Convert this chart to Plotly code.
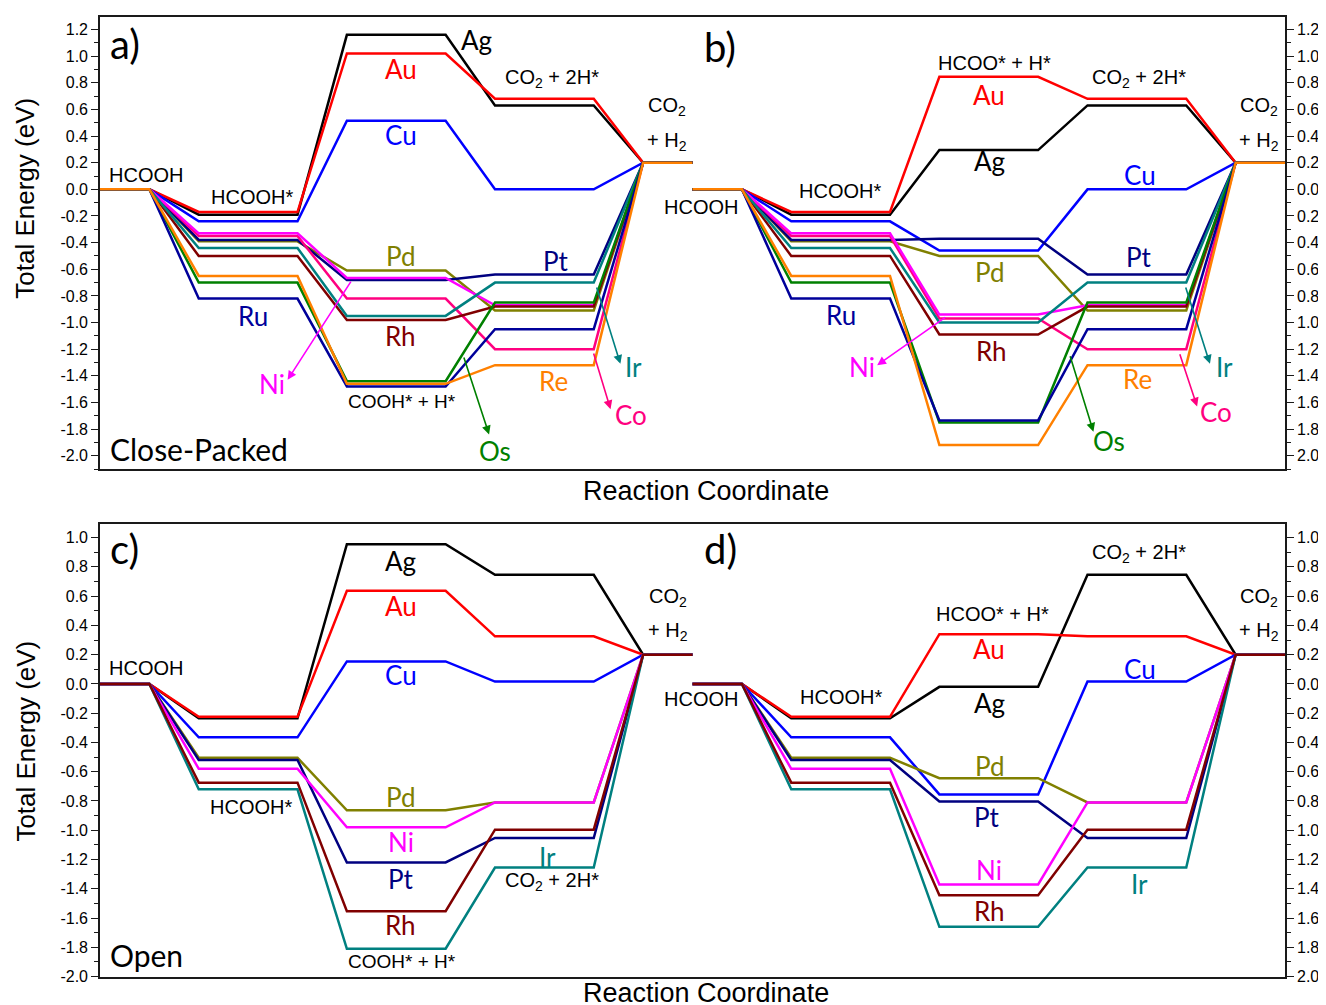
import plotly.graph_objects as go

# ---------------- data ----------------
# x edges (reaction-coordinate units) of the five states within one panel
level_x = [0, 1, 2, 4, 5, 7, 8, 10, 11, 12]
panel_shift = 12  # second panel (b / d) starts at 12

E_HCOOH = 0.0
E_CO2_H2 = 0.2

# Close-packed surfaces (panels a, b)
top_metals = ["Ag", "Au", "Cu", "Pd", "Pt", "Co", "Ni", "Rh", "Ir", "Os", "Ru", "Re"]
top_hcooh_ads = [-0.19, -0.17, -0.24, -0.39, -0.38, -0.35, -0.33, -0.50, -0.44, -0.70, -0.82, -0.65]
top_cooh_h = [1.16, 1.02, 0.515, -0.61, -0.68, -0.82, -0.665, -0.98, -0.95, -1.44, -1.48, -1.46]
top_hcoo_h = [0.295, 0.845, -0.46, -0.50, -0.37, -0.97, -0.94, -1.09, -1.00, -1.75, -1.735, -1.92]
top_co2_2h = [0.63, 0.68, 0.0, -0.91, -0.64, -1.20, -0.87, -0.88, -0.70, -0.85, -1.05, -1.32]

# Open surfaces (panels c, d)
bot_metals = ["Ag", "Au", "Cu", "Pd", "Pt", "Ni", "Ir", "Rh"]
bot_hcooh_ads = [-0.235, -0.225, -0.365, -0.505, -0.52, -0.58, -0.72, -0.675]
bot_cooh_h = [0.955, 0.636, 0.154, -0.864, -1.22, -0.98, -1.81, -1.553]
bot_hcoo_h = [-0.02, 0.34, -0.755, -0.644, -0.803, -1.37, -1.66, -1.444]
bot_co2_2h = [0.746, 0.325, 0.016, -0.81, -1.053, -0.81, -1.255, -0.996]

colors = {
    "Ag": "#000000", "Au": "#FF0000", "Cu": "#0000FF", "Pd": "#808000",
    "Pt": "#000080", "Ni": "#FF00FF", "Co": "#FF0080", "Rh": "#800000",
    "Ir": "#008080", "Os": "#008000", "Ru": "#00009A", "Re": "#FF8000",
}

top_ticks = [round(-2.0 + 0.2 * i, 1) for i in range(17)]
bot_ticks = [round(-2.0 + 0.2 * i, 1) for i in range(16)]

# --------------- figure ----------------
fig = go.Figure()


def path(ads, mid, co2, shift):
    xs = [v + shift for v in level_x]
    ys = [E_HCOOH, E_HCOOH, ads, ads, mid, mid, co2, co2, E_CO2_H2, E_CO2_H2]
    return xs, ys


LW = 2.5
for i, m in enumerate(top_metals):
    for shift, mid in ((0, top_cooh_h[i]), (panel_shift, top_hcoo_h[i])):
        xs, ys = path(top_hcooh_ads[i], mid, top_co2_2h[i], shift)
        fig.add_trace(go.Scatter(x=xs, y=ys, mode="lines", line=dict(color=colors[m], width=LW),
                                 xaxis="x", yaxis="y", showlegend=False, hoverinfo="skip"))
for i, m in enumerate(bot_metals):
    for shift, mid in ((0, bot_cooh_h[i]), (panel_shift, bot_hcoo_h[i])):
        xs, ys = path(bot_hcooh_ads[i], mid, bot_co2_2h[i], shift)
        fig.add_trace(go.Scatter(x=xs, y=ys, mode="lines", line=dict(color=colors[m], width=LW),
                                 xaxis="x2", yaxis="y3", showlegend=False, hoverinfo="skip"))

# dummy traces so that right-hand axes render
fig.add_trace(go.Scatter(x=[None], y=[None], xaxis="x", yaxis="y2", showlegend=False, hoverinfo="skip"))
fig.add_trace(go.Scatter(x=[None], y=[None], xaxis="x2", yaxis="y4", showlegend=False, hoverinfo="skip"))

AX = "#1a1a1a"
TICKF = dict(family="Liberation Sans, Arial", size=16, color="#000")


def fmt(v):
    s = f"{v:.1f}"
    return "0.0" if s == "-0.0" else s


def yax(ticks, rng, dom, side, anchor, overlay=None, absolute=False):
    d = dict(range=rng, domain=dom, side=side, anchor=anchor,
             tickvals=ticks,
             ticktext=[fmt(abs(t)) if absolute else fmt(t) for t in ticks],
             ticks="outside", ticklen=7, tickwidth=1.4, tickcolor=AX,
             minor=dict(dtick=0.1, ticks="outside", ticklen=4, tickwidth=1.2, tickcolor=AX),
             showline=True, linecolor=AX, linewidth=1.6,
             showgrid=False, zeroline=False, tickfont=TICKF, fixedrange=True)
    if overlay:
        d["overlaying"] = overlay
    return d


top_dom = [0.5291, 1.0]
bot_dom = [0.0, 0.4719]
top_rng = [-2.10, 1.294]
bot_rng = [-2.003, 1.093]

xcommon = dict(range=[0, 24], showticklabels=False, ticks="", showline=True, mirror=True,
               linecolor=AX, linewidth=1.6, showgrid=False, zeroline=False, fixedrange=True)

# page body has an 8px default margin -> figure is 8px smaller and margins shifted
fig.update_layout(
    width=1318, height=997,
    margin=dict(l=92, r=40, t=7, b=28),
    paper_bgcolor="white", plot_bgcolor="white",
    xaxis=dict(domain=[0, 1], anchor="y", **xcommon),
    xaxis2=dict(domain=[0, 1], anchor="y3", **xcommon),
    yaxis=yax(top_ticks, top_rng, top_dom, "left", "x"),
    yaxis2=yax(top_ticks, top_rng, top_dom, "right", "x", overlay="y", absolute=True),
    yaxis3=yax(bot_ticks, bot_rng, bot_dom, "left", "x2"),
    yaxis4=yax(bot_ticks, bot_rng, bot_dom, "right", "x2", overlay="y3", absolute=True),
)

ann = []
LATO = "Lato"
ARIAL = "Liberation Sans, Arial"


def lab(x, y, text, color="#000", size=26, font=LATO, xref="x", yref="y", xanchor="center", **kw):
    ann.append(dict(x=x, y=y, text=text, xref=xref, yref=yref, showarrow=False,
                    xanchor=xanchor, yanchor="middle",
                    font=dict(family=font, size=size, color=color), **kw))


def arrow(hx, hy, tx, ty, color, xref="x", yref="y"):
    ann.append(dict(x=hx, y=hy, ax=tx, ay=ty, xref=xref, yref=yref, axref=xref, ayref=yref,
                    text=" ", font=dict(size=2), showarrow=True, arrowhead=2, arrowsize=1.1,
                    arrowwidth=1.6, arrowcolor=color, standoff=0, startstandoff=0))


CO2 = "CO<sub>2</sub>"
H2 = "+ H<sub>2</sub>"

# ---- panel a ----
lab(0.16, 1.09, "a)", size=40, xanchor="left")
lab(0.16, -1.95, "Close-Packed", size=30, xanchor="left")
lab(0.93, 0.11, "HCOOH", size=20, font=ARIAL)
lab(3.08, -0.06, "HCOOH*", size=20, font=ARIAL)
lab(6.11, -1.59, "COOH* + H*", size=19, font=ARIAL)
lab(9.15, 0.83, CO2 + " + 2H*", size=20, font=ARIAL)
lab(11.49, 0.62, CO2, size=20, font=ARIAL)
lab(11.49, 0.36, H2, size=20, font=ARIAL)
lab(7.63, 1.12, "Ag", colors["Ag"])
lab(6.09, 0.90, "Au", colors["Au"])
lab(6.09, 0.41, "Cu", colors["Cu"])
lab(6.09, -0.50, "Pd", colors["Pd"])
lab(9.23, -0.54, "Pt", colors["Pt"])
lab(3.10, -0.95, "Ru", colors["Ru"])
lab(6.09, -1.10, "Rh", colors["Rh"])
lab(9.19, -1.44, "Re", colors["Re"])
lab(3.48, -1.46, "Ni", colors["Ni"])
lab(10.81, -1.335, "Ir", colors["Ir"])
lab(10.76, -1.695, "Co", colors["Co"])
lab(8.01, -1.965, "Os", colors["Os"])
arrow(3.80, -1.43, 5.12, -0.67, colors["Ni"])
arrow(10.54, -1.31, 10.04, -0.715, colors["Ir"])
arrow(10.34, -1.65, 9.98, -1.21, colors["Co"])
arrow(7.88, -1.84, 7.35, -1.24, colors["Os"])

# ---- panel b ----
lab(12.2, 1.07, "b)", size=40, xanchor="left")
lab(12.18, -0.13, "HCOOH", size=20, font=ARIAL)
lab(14.99, -0.01, "HCOOH*", size=20, font=ARIAL)
lab(18.11, 0.95, "HCOO* + H*", size=20, font=ARIAL)
lab(21.04, 0.83, CO2 + " + 2H*", size=20, font=ARIAL)
lab(23.47, 0.62, CO2, size=20, font=ARIAL)
lab(23.47, 0.36, H2, size=20, font=ARIAL)
lab(18.01, 0.71, "Au", colors["Au"])
lab(18.01, 0.21, "Ag", colors["Ag"])
lab(21.06, 0.11, "Cu", colors["Cu"])
lab(18.01, -0.62, "Pd", colors["Pd"])
lab(21.04, -0.51, "Pt", colors["Pt"])
lab(15.01, -0.94, "Ru", colors["Ru"])
lab(18.05, -1.21, "Rh", colors["Rh"])
lab(21.02, -1.425, "Re", colors["Re"])
lab(15.44, -1.33, "Ni", colors["Ni"])
lab(22.78, -1.335, "Ir", colors["Ir"])
lab(22.60, -1.67, "Co", colors["Co"])
lab(20.44, -1.89, "Os", colors["Os"])
arrow(15.74, -1.32, 17.16, -0.95, colors["Ni"])
arrow(22.48, -1.31, 21.97, -0.715, colors["Ir"])
arrow(22.22, -1.63, 21.85, -1.215, colors["Co"])
arrow(20.12, -1.82, 19.63, -1.23, colors["Os"])

# ---- panel c ----
lab(0.16, 0.92, "c)", size=40, xanchor="left", xref="x2", yref="y3")
lab(0.16, -1.85, "Open", size=30, xanchor="left", xref="x2", yref="y3")
lab(0.93, 0.11, "HCOOH", size=20, font=ARIAL, xref="x2", yref="y3")
lab(3.06, -0.84, "HCOOH*", size=20, font=ARIAL, xref="x2", yref="y3")
lab(6.11, -1.90, "COOH* + H*", size=19, font=ARIAL, xref="x2", yref="y3")
lab(9.15, -1.35, CO2 + " + 2H*", size=20, font=ARIAL, xref="x2", yref="y3")
lab(11.51, 0.59, CO2, size=20, font=ARIAL, xref="x2", yref="y3")
lab(11.51, 0.36, H2, size=20, font=ARIAL, xref="x2", yref="y3")
for name, xx, yy in [("Ag", 6.09, 0.84), ("Au", 6.09, 0.53), ("Cu", 6.09, 0.06), ("Pd", 6.09, -0.77),
                     ("Ni", 6.09, -1.08), ("Pt", 6.09, -1.33), ("Rh", 6.09, -1.65), ("Ir", 9.07, -1.18)]:
    lab(xx, yy, name, colors[name], xref="x2", yref="y3")

# ---- panel d ----
lab(12.2, 0.92, "d)", size=40, xanchor="left", xref="x2", yref="y3")
lab(12.18, -0.10, "HCOOH", size=20, font=ARIAL, xref="x2", yref="y3")
lab(15.01, -0.09, "HCOOH*", size=20, font=ARIAL, xref="x2", yref="y3")
lab(18.07, 0.48, "HCOO* + H*", size=20, font=ARIAL, xref="x2", yref="y3")
lab(21.04, 0.89, CO2 + " + 2H*", size=20, font=ARIAL, xref="x2", yref="y3")
lab(23.47, 0.59, CO2, size=20, font=ARIAL, xref="x2", yref="y3")
lab(23.47, 0.36, H2, size=20, font=ARIAL, xref="x2", yref="y3")
for name, xx, yy in [("Au", 18.01, 0.24), ("Ag", 18.01, -0.13), ("Pd", 18.01, -0.56), ("Pt", 17.97, -0.91),
                     ("Ni", 18.01, -1.27), ("Rh", 18.01, -1.55), ("Cu", 21.06, 0.10), ("Ir", 21.06, -1.37)]:
    lab(xx, yy, name, colors[name], xref="x2", yref="y3")

# ---- axis titles ----
lab(-0.0632, 0.8108, "Total Energy (eV)", size=26, font=ARIAL, xref="paper", yref="paper", textangle=-90)
lab(-0.0632, 0.2453, "Total Energy (eV)", size=26, font=ARIAL, xref="paper", yref="paper", textangle=-90)
lab(0.511, 0.506, "Reaction Coordinate", size=27, font=ARIAL, xref="paper", yref="paper")
lab(0.511, -0.0166, "Reaction Coordinate", size=27, font=ARIAL, xref="paper", yref="paper")

fig.update_layout(annotations=ann)
fig.write_html("out.html")
